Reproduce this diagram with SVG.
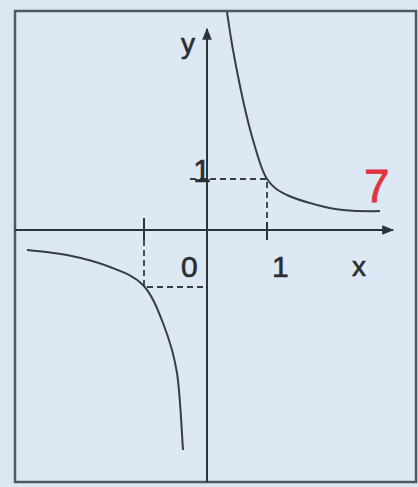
<svg xmlns="http://www.w3.org/2000/svg" width="418" height="487" viewBox="0 0 418 487">
<style>
.axis{stroke:#2e3338;stroke-width:2;fill:none}
.curve{stroke:#3a3d42;stroke-width:2;fill:none}
.dash{stroke:#3a3d42;stroke-width:1.8;fill:none;stroke-dasharray:6 4}
.lbl{font-family:"Liberation Sans",Arial,sans-serif;fill:#2a2d31;stroke:#2a2d31;stroke-width:0.6}
</style>
<defs>
<marker id="arr" viewBox="0 0 10 10" refX="9" refY="5" markerWidth="6.5" markerHeight="6" orient="auto" markerUnits="strokeWidth">
<path d="M0,1 L10,5 L0,9 Z" fill="#2e3338"/>
</marker>
</defs>
<rect width="418" height="487" fill="#dae6f2"/>
<rect x="15" y="11" width="401" height="471" fill="#dce8f4" stroke="#4d5862" stroke-width="2.5"/>
<g id="connectors">
<line class="axis" x1="15" y1="230" x2="393" y2="230" marker-end="url(#arr)"/>
<line class="axis" x1="207" y1="482" x2="207" y2="29" marker-end="url(#arr)"/>
<line class="axis" x1="267" y1="222" x2="267" y2="240"/>
<line class="axis" x1="144" y1="218" x2="144" y2="240"/>
<path class="dash" d="M190,179 H267 V222"/>
<path class="dash" d="M144,240 V287 H207"/>
<path class="curve" d="M227,12 C228,18.3 230.3,35.3 233,50 C235.7,64.7 239.7,85 243,100 C246.3,115 249,126.7 253,140 C257,153.3 261,170 267,179 C273,188 278.7,190.8 287,195 C295.3,199.2 307.7,202.5 317,205 C326.3,207.5 332.5,209 343,210 C353.5,211 373.8,211.2 380,211"/>
<path class="curve" d="M27,250 C33.7,250.8 53.2,252.2 67,255 C80.8,257.8 97.3,262 110,267 C122.7,272 134.2,275.7 143,285 C151.8,294.3 157.3,308.3 163,323 C168.7,337.7 173.7,351.8 177,373 C180.3,394.2 182,437.2 183,450"/>
</g>
<g id="labels">
<text class="lbl" x="181" y="53" font-size="28">y</text>
<text class="lbl" x="193" y="182" font-size="32">1</text>
<text class="lbl" x="181" y="277" font-size="30">0</text>
<text class="lbl" x="272" y="277" font-size="30">1</text>
<text class="lbl" x="352" y="276" font-size="28">x</text>
<text x="364" y="202" font-size="46" font-family="Liberation Sans,Arial,sans-serif" fill="#e0343e" stroke="#e0343e" stroke-width="0.8">7</text>
</g>
</svg>
